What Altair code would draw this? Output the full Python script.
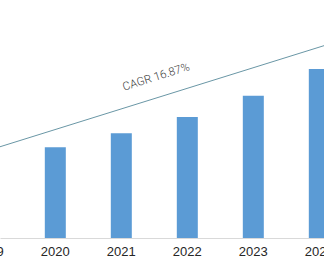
import altair as alt
import pandas as pd

years = [2019, 2020, 2021, 2022, 2023, 2024]
year_labels = ["2019", "2020", "2021", "2022", "2023", "2024"]
values = [7.8, 9.07, 10.47, 12.1, 14.23, 16.9]

trend_years = [2019.0, 2024.2]
trend_values = [8.79, 19.5]

label_year = [2021.53]
label_value = [16.05]
label_text = ["CAGR 16.87%"]

bars_df = pd.DataFrame({"year": years, "value": values, "label": year_labels})
trend_df = pd.DataFrame({"year": trend_years, "value": trend_values})
label_df = pd.DataFrame({"year": label_year, "value": label_value, "text": label_text})

xscale = alt.Scale(domain=[2019.162, 2024.071], nice=False, zero=False, padding=0)
yscale = alt.Scale(domain=[0, 23.8], nice=False, zero=True)

bars = alt.Chart(bars_df).mark_bar(size=21, color="#5b9bd5", clip=True).encode(
    x=alt.X("year:Q", scale=xscale,
            axis=alt.Axis(values=years, labels=False, title=None, ticks=False, grid=False,
                          domainColor="#d9d9d9", domainWidth=1)),
    y=alt.Y("value:Q", scale=yscale, axis=None),
)

xlabels = alt.Chart(bars_df).mark_text(
    font="Liberation Sans", fontSize=13, color="#262626",
    align="center", baseline="top"
).encode(
    x=alt.X("year:Q", scale=xscale),
    y=alt.value(246),
    text="label:N",
)

trend = alt.Chart(trend_df).mark_line(color="#6a97a6", strokeWidth=1, clip=True).encode(
    x=alt.X("year:Q", scale=xscale),
    y=alt.Y("value:Q", scale=yscale),
)

label = alt.Chart(label_df).mark_text(
    angle=342.6, font="Roboto", fontSize=11.5, fontWeight=300, color="#404040",
    align="center", baseline="middle"
).encode(
    x=alt.X("year:Q", scale=xscale),
    y=alt.Y("value:Q", scale=yscale),
    text="text:N",
)

chart = alt.layer(bars, trend, label, xlabels).properties(
    width=324, height=238,
    padding={"left": 0, "top": 0, "right": 0, "bottom": 29},
    autosize=alt.AutoSizeParams(type="none"),
    background="white"
).configure_view(strokeWidth=0)

chart.save("out.html", embed_options={"renderer": "svg", "actions": False})
